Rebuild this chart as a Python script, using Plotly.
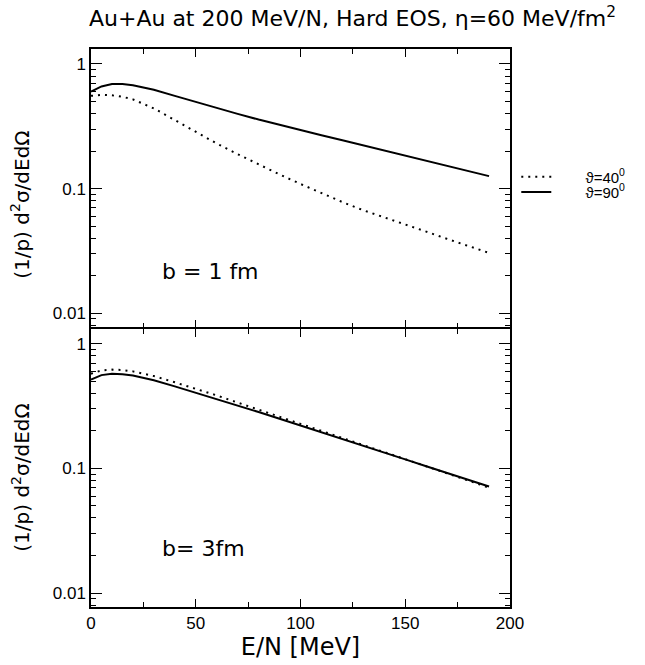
import plotly.graph_objects as go
from plotly.subplots import make_subplots

# ---- data ----
energy = [0, 5, 10, 15, 20, 30, 40, 50, 60, 70, 80, 90, 100, 110, 120, 130, 140, 150, 160, 170, 180, 190]

b1_theta40 = [0.555, 0.565, 0.56, 0.545, 0.52, 0.44, 0.355, 0.285, 0.230, 0.189, 0.156, 0.130, 0.109,
              0.092, 0.078, 0.067, 0.059, 0.0515, 0.0452, 0.0395, 0.0347, 0.0305]
b1_theta90 = [0.60, 0.66, 0.69, 0.69, 0.675, 0.62, 0.555, 0.495, 0.443, 0.398, 0.358, 0.324, 0.294,
              0.268, 0.244, 0.222, 0.202, 0.184, 0.167, 0.152, 0.138, 0.126]

b3_theta40 = [0.575, 0.61, 0.62, 0.615, 0.60, 0.55, 0.49, 0.435, 0.385, 0.337, 0.296, 0.259, 0.228,
              0.200, 0.176, 0.154, 0.135, 0.119, 0.104, 0.091, 0.080, 0.070]
b3_theta90 = [0.515, 0.56, 0.575, 0.57, 0.555, 0.51, 0.455, 0.405, 0.36, 0.32, 0.283, 0.25, 0.221,
              0.196, 0.173, 0.152, 0.134, 0.118, 0.104, 0.092, 0.081, 0.0715]

series_names = ["ϑ=40<sup>0</sup>", "ϑ=90<sup>0</sup>"]
panel_labels = ["b = 1 fm", "b= 3fm"]
y_tickvals = [0.01, 0.1, 1]
y_ticktext = ["0.01", "0.1", "1"]
x_tickvals = [0, 50, 100, 150, 200]

title_text = "Au+Au at 200 MeV/N, Hard EOS, η=60 MeV/fm<sup>2</sup>"
x_title = "E/N [MeV]"
y_title = "(1/p) d<sup>2</sup>σ/dEdΩ"

FONT = "Liberation Sans"
WIDE = "DejaVu Sans"
dotted = dict(color="black", width=2, dash="2px,5px")
solid = dict(color="black", width=2)

fig = make_subplots(rows=2, cols=1, shared_xaxes=False, vertical_spacing=1.5 / 558)

pad = "\u00a0" * 7
fig.add_trace(go.Scatter(x=energy, y=b1_theta40, mode="lines", line=dotted,
                         name=pad + series_names[0], showlegend=True, legend="legend"), row=1, col=1)
fig.add_trace(go.Scatter(x=energy, y=b1_theta90, mode="lines", line=solid,
                         name=pad + series_names[1], showlegend=True, legend="legend2"), row=1, col=1)
fig.add_trace(go.Scatter(x=energy, y=b3_theta40, mode="lines", line=dotted,
                         showlegend=False), row=2, col=1)
fig.add_trace(go.Scatter(x=energy, y=b3_theta90, mode="lines", line=solid,
                         showlegend=False), row=2, col=1)

axis_common = dict(showline=True, linecolor="black", linewidth=1.5, mirror="allticks",
                   ticks="inside", tickcolor="black", showgrid=False, zeroline=False,
                   tickfont=dict(family=FONT, size=17, color="black"))

for r in (1, 2):
    fig.update_xaxes(range=[0, 200], tickvals=x_tickvals, ticklen=8, tickwidth=1.3,
                     minor=dict(dtick=25, ticks="inside", ticklen=5, tickcolor="black", tickwidth=1.3),
                     showticklabels=(r == 2), row=r, col=1, **axis_common)
    fig.update_yaxes(type="log", range=[-2.112, 0.12], tickvals=y_tickvals, ticktext=y_ticktext,
                     ticklen=11, tickwidth=1.3,
                     minor=dict(dtick="D1", ticks="inside", ticklen=5, tickcolor="black", tickwidth=1.3),
                     row=r, col=1, **axis_common)

fig.update_xaxes(title=dict(text=x_title, font=dict(family=WIDE, size=24, color="black"), standoff=3),
                 row=2, col=1)

# y-axis titles (placed slightly below panel centres as in the reference)
for yc in (0.72, 0.231):
    fig.add_annotation(x=-0.168, y=yc, xref="paper", yref="paper", text=y_title, showarrow=False,
                       textangle=-90, xanchor="center", yanchor="middle",
                       font=dict(family=WIDE, size=20, color="black"))

fig.add_annotation(x=33, y=-1.664, xref="x", yref="y", text=panel_labels[0], showarrow=False,
                   xanchor="left", yanchor="middle", font=dict(family=WIDE, size=22, color="black"))
fig.add_annotation(x=33, y=-1.64, xref="x2", yref="y2", text=panel_labels[1], showarrow=False,
                   xanchor="left", yanchor="middle", font=dict(family=WIDE, size=22, color="black"))

legend_style = dict(xanchor="left", yanchor="top", bgcolor="rgba(0,0,0,0)",
                    font=dict(family=FONT, size=15, color="black"), itemwidth=30)

fig.update_layout(
    width=645, height=665,
    margin=dict(l=91, r=135, t=49, b=58),
    paper_bgcolor="white", plot_bgcolor="white",
    title=dict(text=title_text, x=0.5465, xanchor="center", y=0.972, yanchor="middle",
               font=dict(family=WIDE, size=22, color="black")),
    legend=dict(x=1.015, y=0.8, **legend_style),
    legend2=dict(x=1.015, y=0.773, **legend_style),
    showlegend=True,
)

fig.write_html("out.html")
